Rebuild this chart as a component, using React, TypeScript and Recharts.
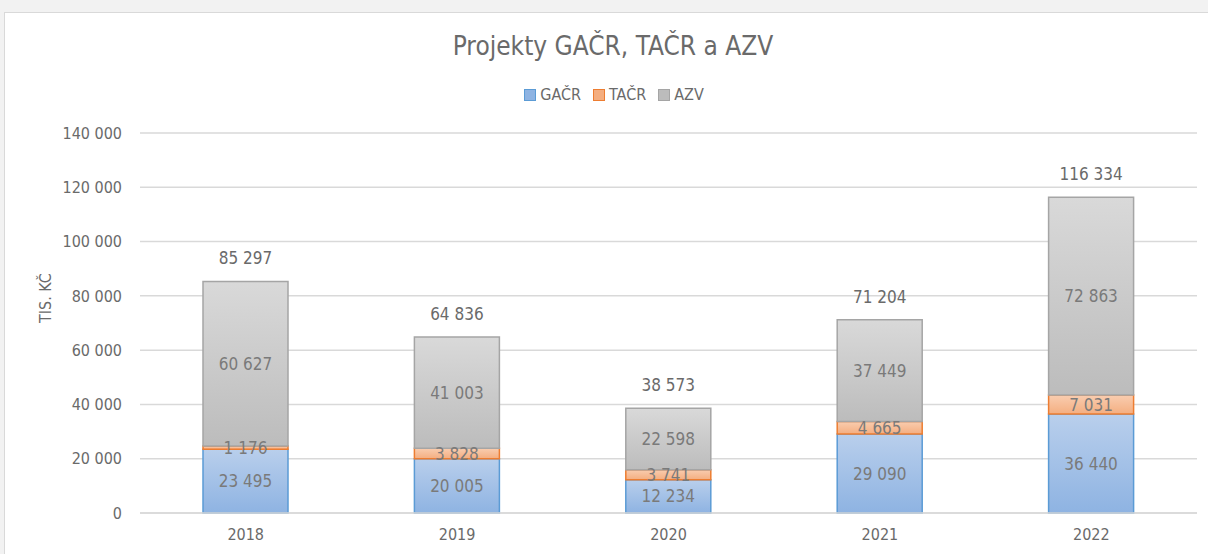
import {
  ComposedChart,
  Bar,
  XAxis,
  YAxis,
  CartesianGrid,
  LabelList,
} from "recharts";

const years = ["2018", "2019", "2020", "2021", "2022"];
const gacr = [23495, 20005, 12234, 29090, 36440];
const tacr = [1176, 3828, 3741, 4665, 7031];
const azv = [60627, 41003, 22598, 37449, 72863];
const totals = [85297, 64836, 38573, 71204, 116334];
const yTicks = [0, 20000, 40000, 60000, 80000, 100000, 120000, 140000];

const SERIES = [
  { key: "gacr", name: "GAČR", top: "#b9cfec", bottom: "#8eb3e2", stroke: "#5b9bd5" },
  { key: "tacr", name: "TAČR", top: "#f9cdb0", bottom: "#f4ae80", stroke: "#ed7d31" },
  { key: "azv", name: "AZV", top: "#d9d9d9", bottom: "#bcbcbc", stroke: "#a5a5a5" },
];

const FONT = '"Liberation Sans Narrow", "Arial Narrow", "DejaVu Sans Condensed", sans-serif';
const TXT = "#6a6a6a";

const data = years.map((year, i) => ({
  year,
  gacr: gacr[i],
  tacr: tacr[i],
  azv: azv[i],
  total: totals[i],
}));

// czech style thousands: space separator
const fmt = (v: any) =>
  String(v).replace(/\B(?=(\d{3})+(?!\d))/g, " ");

export default function App() {
  return (
    <div
      style={{
        position: "fixed",
        left: 0,
        top: 0,
        width: 1208,
        height: 554,
        background: "#f2f2f2",
        fontFamily: FONT,
        overflow: "hidden",
      }}
    >
      <div
        style={{
          position: "absolute",
          left: 4,
          top: 12,
          width: 1220,
          height: 560,
          background: "#fff",
          borderTop: "1px solid #d9d9d9",
          borderLeft: "1px solid #d9d9d9",
        }}
      />
      <div
        style={{
          position: "absolute",
          left: 0,
          top: 31,
          width: 1226,
          textAlign: "center",
          fontSize: 26,
          color: TXT,
        }}
      >
        Projekty GAČR, TAČR a AZV
      </div>
      <div
        style={{
          position: "absolute",
          left: 0,
          top: 85,
          width: 1240,
          display: "flex",
          justifyContent: "center",
          fontSize: 16,
          color: TXT,
        }}
      >
        {SERIES.map((s) => (
          <span key={s.key} style={{ display: "flex", alignItems: "center", marginRight: 12 }}>
            <span
              style={{
                width: 10,
                height: 10,
                background: s.bottom,
                border: `1.5px solid ${s.stroke}`,
                marginRight: 4,
              }}
            />
            {s.name}
          </span>
        ))}
      </div>
      <div style={{ position: "absolute", left: 0, top: 0 }}>
        <ComposedChart
          width={1208}
          height={554}
          data={data}
          margin={{ top: 133, right: 11, bottom: 11, left: 0 }}
          style={{ fontFamily: FONT }}
        >
          <defs>
            {SERIES.map((s) => (
              <linearGradient key={s.key} id={"g-" + s.key} x1="0" y1="0" x2="0" y2="1">
                <stop offset="0%" stopColor={s.top} />
                <stop offset="100%" stopColor={s.bottom} />
              </linearGradient>
            ))}
          </defs>
          <CartesianGrid vertical={false} stroke="#d9d9d9" strokeWidth={1.5} />
          <XAxis
            dataKey="year"
            height={30}
            axisLine={{ stroke: "#d9d9d9", strokeWidth: 1.5 }}
            tickLine={false}
            tickSize={0}
            tickMargin={16}
            tick={{ fill: TXT, fontSize: 16 }}
          />
          <YAxis
            width={140}
            domain={[0, 140000]}
            ticks={yTicks}
            axisLine={false}
            tickLine={false}
            tickSize={0}
            tickMargin={18}
            tickFormatter={fmt}
            tick={{ fill: TXT, fontSize: 16 }}
            label={{
              value: "TIS. KČ",
              angle: -90,
              position: "insideLeft",
              offset: 45,
              fill: TXT,
              fontSize: 16,
            }}
          />
          {SERIES.map((s) => (
            <Bar
              key={s.key}
              dataKey={s.key}
              name={s.name}
              stackId="a"
              barSize={85}
              fill={`url(#g-${s.key})`}
              stroke={s.stroke}
              strokeWidth={1.5}
              isAnimationActive={false}
            >
              <LabelList
                dataKey={s.key}
                position="center"
                formatter={fmt}
                fill="#7a7a7a"
                fontSize={17}
              />
              {s.key === "azv" && (
                <LabelList
                  dataKey="total"
                  position="top"
                  offset={17}
                  formatter={fmt}
                  fill={TXT}
                  fontSize={17}
                />
              )}
            </Bar>
          ))}
        </ComposedChart>
      </div>
    </div>
  );
}
